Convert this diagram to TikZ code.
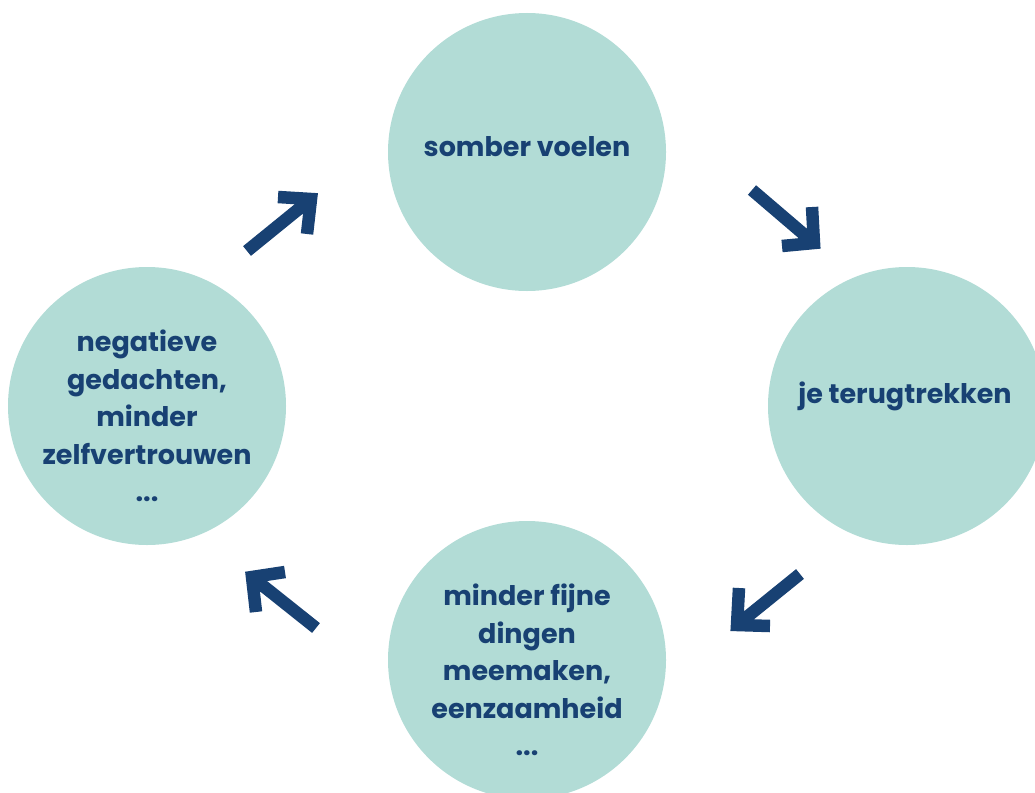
\documentclass[tikz,border=0pt]{standalone}
\usepackage{fontspec}
\setmainfont{Poppins}
\definecolor{bubblegreen}{RGB}{178,220,214}
\definecolor{cycleblue}{RGB}{24,65,115}
\tikzset{
  bubble/.style={circle, fill=bubblegreen, minimum size=278pt, inner sep=0pt},
  bubbletext/.style={align=center, text=cycleblue, font=\fontsize{27}{37.5}\selectfont\bfseries},
  cyclearrow/.style={draw=cycleblue, line width=12.5pt, line join=miter},
}
\begin{document}
\begin{tikzpicture}[x=1pt,y=-1pt]
    \useasboundingbox (0,0) rectangle (1035,792);
    \clip (0,0) rectangle (1035,792);
    % the four bubbles
    \node[bubble] (somber) at (527,152) {};
    \node[bubble] (terug) at (907,406) {};
    \node[bubble] (fijne) at (527,660) {};
    \node[bubble] (negatief) at (147,406) {};
    \node[bubbletext] (somberT) at (527,147) {somber voelen};
    \node[bubbletext] (terugT) at (905,396) {je terugtrekken};
    \node[bubbletext] (fijneT) at (527,670) {minder fijne\\dingen\\meemaken,\\eenzaamheid\\...};
    \node[bubbletext] (negatiefT) at (147,416) {negatieve\\gedachten,\\minder\\zelfvertrouwen\\...};
    % arrows of the cycle
    \coordinate (a1s) at (247,251);
    \coordinate (a1t) at (311,199);
    \coordinate (a2s) at (752,190);
    \coordinate (a2t) at (814,243);
    \coordinate (a3s) at (800,574);
    \coordinate (a3t) at (737,625);
    \coordinate (a4s) at (316,628);
    \coordinate (a4t) at (252,577);
    \draw[cyclearrow] (a1s) -- (a1t) (278,197) -- (a1t) -- (307,234);
    \draw[cyclearrow] (a2s) -- (a2t) (782,246) -- (a2t) -- (812,207);
    \draw[cyclearrow] (a3s) -- (a3t) (739,588) -- (a3t) -- (770,626);
    \draw[cyclearrow] (a4s) -- (a4t) (285,572) -- (a4t) -- (256,612);
\end{tikzpicture}
\end{document}
